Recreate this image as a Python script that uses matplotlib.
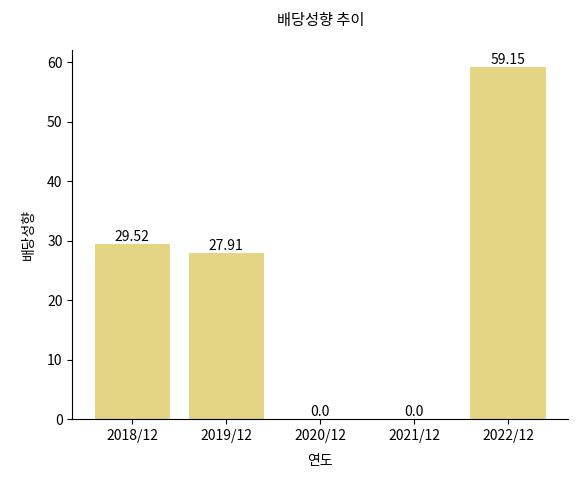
import matplotlib.pyplot as plt

plt.rcParams['font.family'] = ['Noto Sans CJK KR', 'DejaVu Sans']

years = ['2018/12', '2019/12', '2020/12', '2021/12', '2022/12']
payout = [29.52, 27.91, 0.0, 0.0, 59.15]

fig, ax = plt.subplots(figsize=(5.78, 4.79), dpi=100)
fig.subplots_adjust(left=0.125, right=0.983, top=0.895, bottom=0.125)

bars = ax.bar(years, payout, color='#e4d585', width=0.8)
for b, v in zip(bars, payout):
    ax.text(b.get_x() + b.get_width() / 2, v, str(v), ha='center', va='bottom', fontsize=10)

ax.set_ylim(0, 62)
ax.set_title('배당성향 추이', pad=18, fontsize=11)
ax.set_xlabel('연도', labelpad=8)
ax.set_ylabel('배당성향', labelpad=8)
ax.spines['top'].set_visible(False)
ax.spines['right'].set_visible(False)

plt.savefig('out.png')
